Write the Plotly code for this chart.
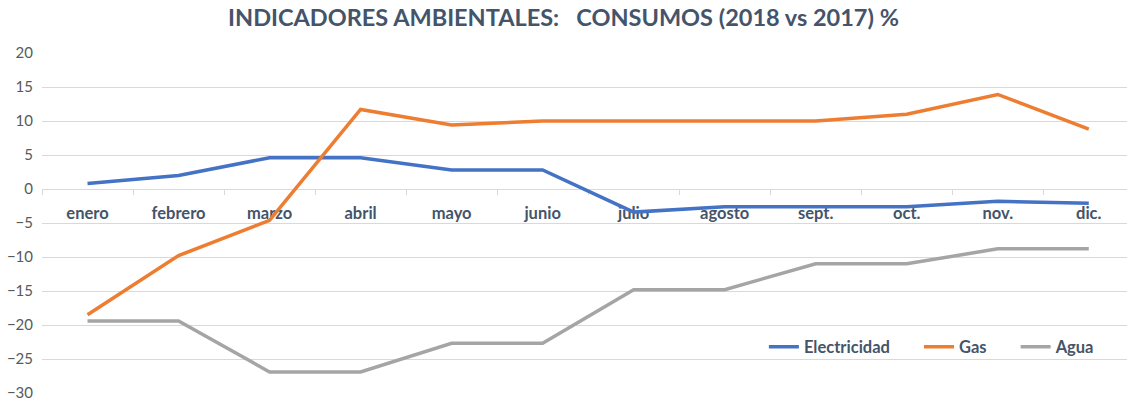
import plotly.graph_objects as go

meses = ["enero", "febrero", "marzo", "abril", "mayo", "junio", "julio",
         "agosto", "sept.", "oct.", "nov.", "dic."]
electricidad = [0.8, 2.0, 4.6, 4.6, 2.8, 2.8, -3.4, -2.6, -2.6, -2.6, -1.8, -2.1]
gas = [-18.5, -9.8, -4.6, 11.7, 9.4, 10.0, 10.0, 10.0, 10.0, 11.0, 13.9, 8.8]
agua = [-19.4, -19.4, -26.9, -26.9, -22.7, -22.7, -14.8, -14.8, -11.0, -11.0, -8.8, -8.8]

FONT = "Lato"
TXT = "#44546A"
PAD = "\u00a0" * 6

fig = go.Figure()
for name, vals, col in [("Electricidad" + PAD, electricidad, "#4472C4"),
                        ("Gas" + PAD, gas, "#ED7D31"),
                        ("Agua", agua, "#A5A5A5")]:
    fig.add_trace(go.Scatter(x=meses, y=vals, mode="lines", name=name,
                             line=dict(color=col, width=3.5)))

fig.update_layout(
    width=1127, height=403,
    margin=dict(l=42, r=0, t=53, b=10),
    paper_bgcolor="white", plot_bgcolor="white",
    font=dict(family=FONT, color=TXT),
    title=dict(text="INDICADORES AMBIENTALES:\u00a0\u00a0\u00a0CONSUMOS (2018 vs 2017) %",
               x=0.5, xanchor="center", y=0.955, yanchor="middle",
               font=dict(family=FONT, size=23.5, color=TXT, weight="bold")),
    legend=dict(orientation="h", x=0.975, xanchor="right", y=0.135, yanchor="middle",
                font=dict(family=FONT, size=16.5, color=TXT, weight="bold"),
                bgcolor="rgba(0,0,0,0)", itemwidth=30, traceorder="normal"),
    showlegend=True,
)
fig.update_xaxes(
    type="category", range=[-0.5, 11.42], anchor="free", position=0.6,
    showline=True, linecolor="#D9D9D9", linewidth=1, layer="below traces",
    ticks="outside", tickson="boundaries", ticklen=5, tickcolor="#D9D9D9",
    showgrid=False, ticklabelstandoff=9,
    tickfont=dict(family=FONT, size=16.5, color=TXT, weight="bold"),
)
fig.update_yaxes(
    range=[-30, 20], dtick=5, showgrid=True, gridcolor="#D9D9D9", gridwidth=1,
    zeroline=False, showline=False, ticks="", ticklabelstandoff=8,
    tickfont=dict(family=FONT, size=15, color="#595959"),
)
fig.write_html("out.html", config={"displayModeBar": False},
               post_script="document.body.style.margin='0';document.body.style.overflow='hidden';")
